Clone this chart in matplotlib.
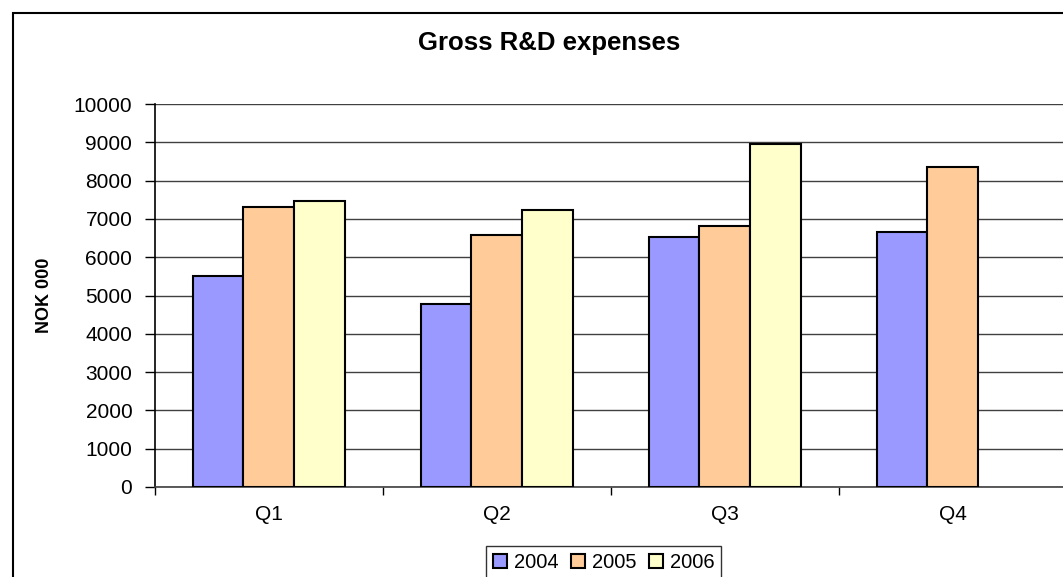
import matplotlib
matplotlib.use("Agg")
import matplotlib.pyplot as plt
from matplotlib.patches import Rectangle
import numpy as np

plt.rcParams['font.family'] = ['Liberation Sans', 'DejaVu Sans']

quarters = ["Q1", "Q2", "Q3", "Q4"]
years = ["2004", "2005", "2006"]
values_2004 = [5500, 4780, 6520, 6660]
values_2005 = [7300, 6580, 6810, 8360]
values_2006 = [7480, 7220, 8960, np.nan]
series = [values_2004, values_2005, values_2006]
colors = ["#9999FF", "#FFCC99", "#FFFFCC"]
y_ticks = list(range(0, 10001, 1000))

W, H = 1063, 577
fig = plt.figure(figsize=(W / 100, H / 100), dpi=100)

# outer chart frame
fig.patches.append(Rectangle((12.5 / W, -0.05), 1.2, 1 - 12.5 / H + 0.05,
                             transform=fig.transFigure, fill=False,
                             edgecolor="black", linewidth=1.5, zorder=0))

left, right = 154.5 / W, 1066.5 / W
bottom, top = 1 - 487 / H, 1 - 104 / H
ax = fig.add_axes([left, bottom, right - left, top - bottom])

x = np.arange(len(quarters))
bw = 1 / 4.5
for i, (vals, col, yr) in enumerate(zip(series, colors, years)):
    ax.bar(x + (i - 1) * bw, vals, width=bw, color=col, edgecolor="black",
           linewidth=1.5, label=yr, zorder=3)

ax.set_xlim(-0.5, len(quarters) - 0.5)
ax.set_ylim(0, 10000)
ax.set_yticks(y_ticks)
ax.set_yticklabels([str(v) for v in y_ticks])
ax.yaxis.grid(True, color="#404040", linewidth=1.0, zorder=0)
ax.set_axisbelow(True)

ax.set_xticks(x)
ax.set_xticklabels(quarters)
ax.set_xticks(np.arange(-0.5, len(quarters) + 0.5, 1), minor=True)
ax.tick_params(axis="x", which="major", length=0, pad=13, labelsize=15)
ax.tick_params(axis="x", which="minor", length=6, width=1.0, direction="out")
ax.tick_params(axis="y", length=7, width=1.0, direction="out", pad=9, labelsize=15)

for side in ["top", "right"]:
    ax.spines[side].set_visible(False)
ax.spines["left"].set_linewidth(1.2)
ax.spines["bottom"].set_linewidth(1.2)
ax.spines["bottom"].set_color("#404040")

ax.set_ylabel("NOK 000", fontsize=13, fontweight="bold")
ax.yaxis.set_label_coords((53 - 154.5) / (1066.5 - 154.5), 0.5)

fig.text(549 / W, 1 - 43 / H, "Gross R&D expenses", ha="center", va="center",
         fontsize=18.5, fontweight="bold")

leg = fig.legend(loc="upper left", bbox_to_anchor=(486 / W, 1 - 546 / H),
                 ncol=3, fontsize=14.5, frameon=True, fancybox=False,
                 edgecolor="black", handlelength=0.7, handleheight=0.7,
                 handletextpad=0.35, columnspacing=0.6, borderpad=0.35,
                 borderaxespad=0)
leg.get_frame().set_linewidth(1.0)

fig.savefig("out.png", dpi=100)
